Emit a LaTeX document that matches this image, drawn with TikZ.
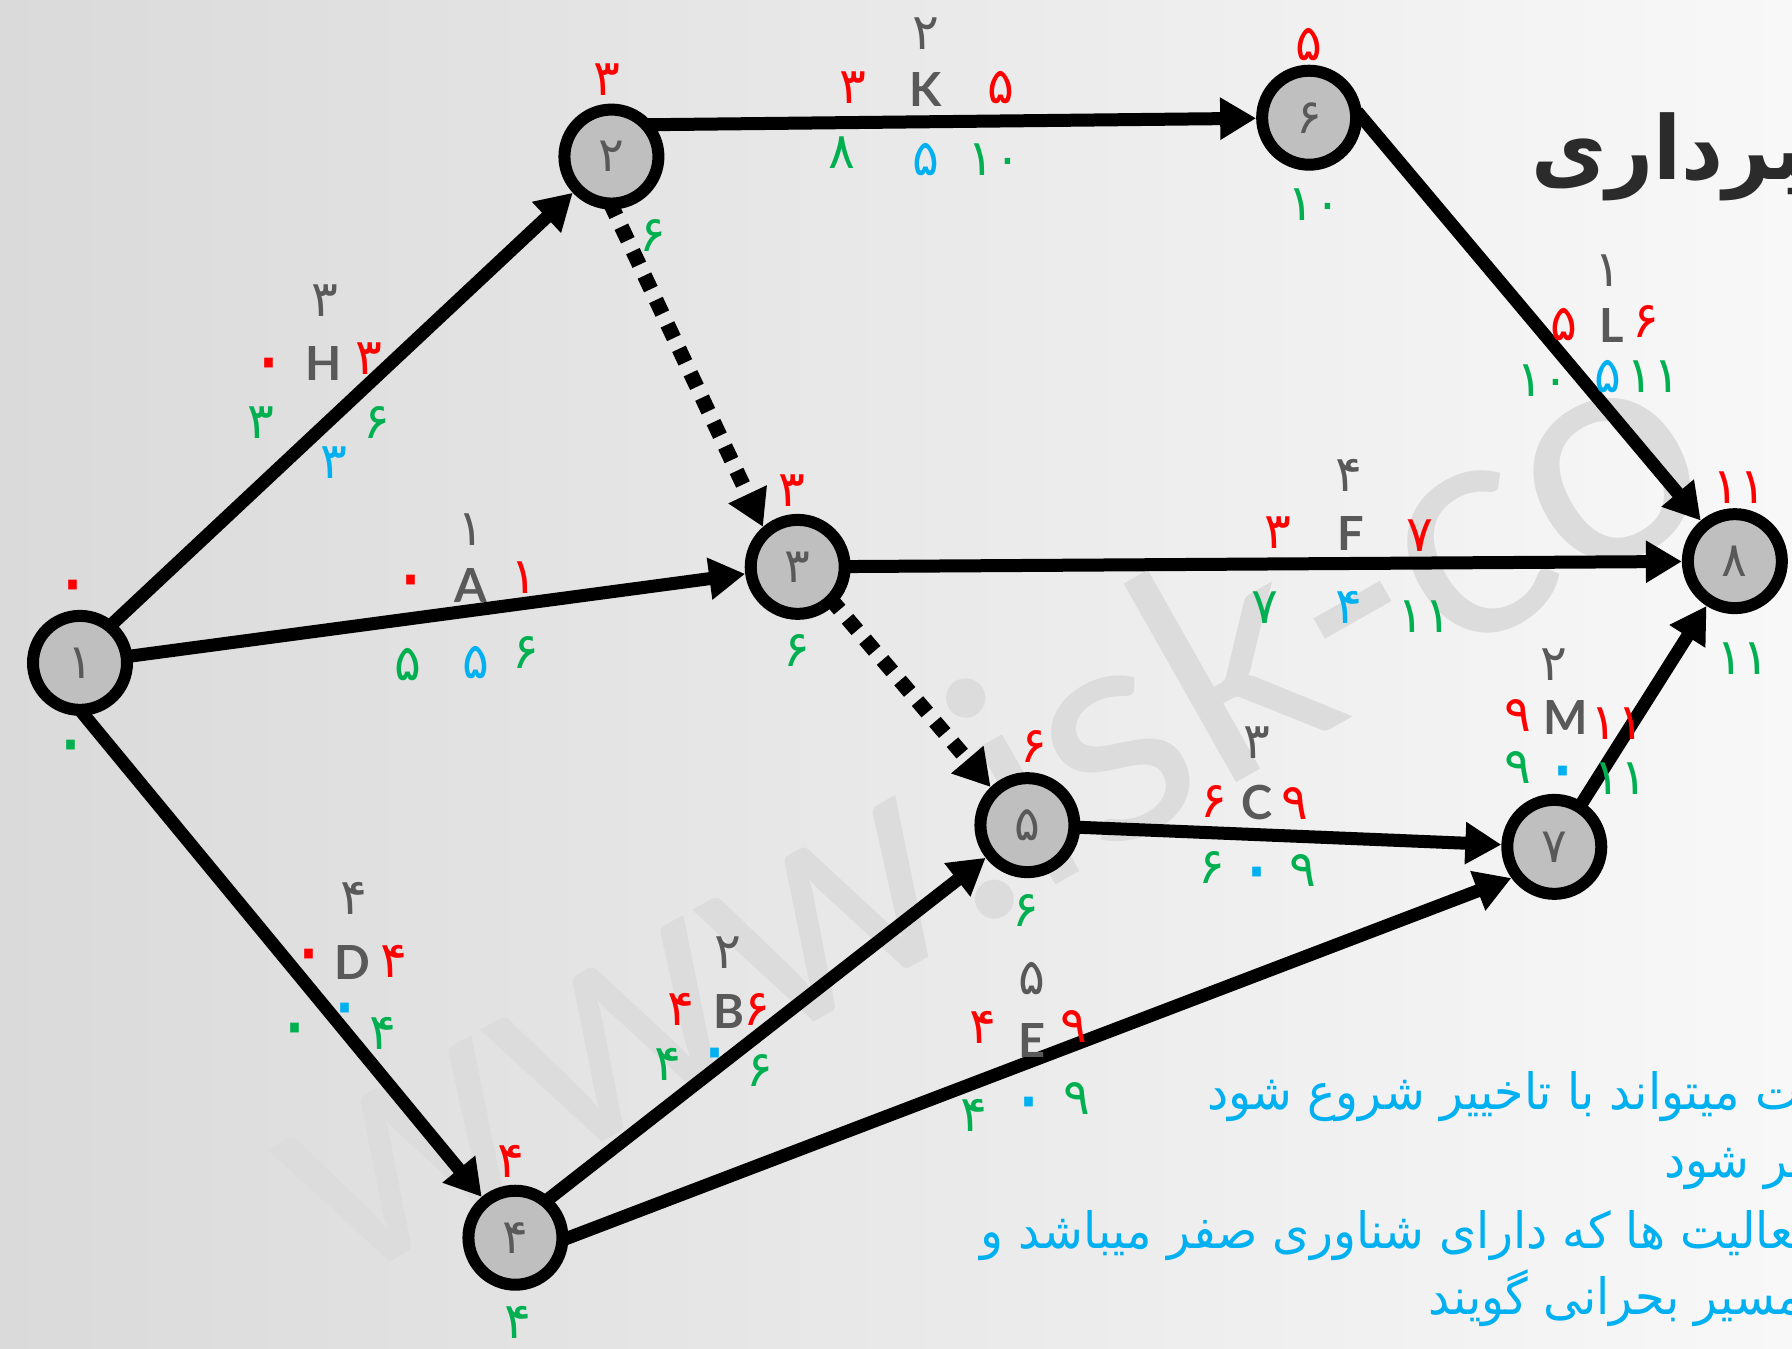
\documentclass[tikz,border=0pt]{standalone}
\usepackage{fontspec}
\setmainfont{Lato}
\newfontfamily\fa[Script=Arabic]{DejaVu Sans}
\newfontfamily\fatx[Script=Arabic,FakeStretch=0.95]{DejaVu Sans}
\newfontfamily\fattl[Script=Arabic,FakeStretch=0.93]{DejaVu Sans}
\newfontfamily\lat{Lato}
\TeXXeTstate=1
\usetikzlibrary{arrows.meta}
\definecolor{tgray}{HTML}{595959}
\definecolor{tred}{HTML}{FF0000}
\definecolor{tgreen}{HTML}{00B050}
\definecolor{tblue}{HTML}{00B0F0}
\definecolor{nfill}{HTML}{BFBFBF}
\definecolor{wmark}{HTML}{DCDCDC}
\definecolor{ttl}{HTML}{2B2B2B}
\definecolor{bgl}{HTML}{DADADA}
\definecolor{bgm}{HTML}{F0F0F0}
\definecolor{bgr}{HTML}{F8F8F8}
\pgfdeclarelayer{back}
\pgfdeclarelayer{edges}
\pgfsetlayers{back,edges,main}
\begin{document}
\begin{tikzpicture}[x=1.142857pt,y=-1.142857pt,
  ev/.style={circle,draw=black,line width=12pt,fill=nfill,minimum size=94pt,inner sep=0pt,text=tgray,font=\fa\fontsize{48}{52}\selectfont},
  lab/.style={inner sep=0pt,text height=35pt,text depth=0pt,font=\fa\fontsize{50}{54}\selectfont},
  dur/.style={lab,text=tgray},
  es/.style={lab,text=tred},
  lf/.style={lab,text=tgreen},
  fl/.style={lab,text=tblue},
  zr/.style={text height=44pt,font=\fa\fontsize{80}{80}\selectfont},
  act/.style={inner sep=0pt,text=tgray,font=\lat\bfseries\fontsize{47}{50}\selectfont},
  arr/.style={line width=13pt,-{Triangle[length=36pt,width=40pt]},shorten <=-8pt},
  dum/.style={arr,line width=15pt,dash pattern=on 15pt off 12pt},
  para/.style={inner sep=0pt,anchor=base west,text=tblue,font=\fatx\fontsize{50}{56}\selectfont}]
\useasboundingbox (0,0) rectangle (1568,1180);
\clip (0,0) rectangle (1568,1180);
\begin{pgfonlayer}{back}
\shade[left color=bgl,middle color=bgm,right color=bgr] (0,0) rectangle (1568,1180);
\node[rotate=29.5,anchor=base,inner sep=0pt,text=wmark,font=\lat\fontsize{310}{310}\selectfont] (wm) at (905,785) {www.isk-co};
\end{pgfonlayer}
% events
\node[ev] (n1) at (70,580) {۱};
\node[ev] (n2) at (535,137) {۲};
\node[ev] (n3) at (698,496) {۳};
\node[ev] (n4) at (451,1083) {۴};
\node[ev] (n5) at (899,722) {۵};
\node[ev] (n6) at (1145.5,103) {۶};
\node[ev] (n7) at (1360,741) {۷};
\node[ev] (n8) at (1518,491) {۸};
% activities
\begin{pgfonlayer}{edges}
\draw[arr] (n1.50) -- (n2);
\draw[arr] (n1) -- (n3);
\draw[arr] (n1.-85) -- (n4);
\draw[arr] (n2.37) -- (n6);
\draw[dum] (n2.-88) -- (n3.131);
\draw[dum] (n3.-45) -- (n5.134);
\draw[arr] (n3) -- (n8);
\draw[arr] (n6.0) -- (n8);
\draw[arr] (n4.49) -- (n5);
\draw[arr] (n4.0) -- (n7.216);
\draw[arr] (n5) -- (n7);
\draw[arr] (n7) -- (n8);
\end{pgfonlayer}
% event times
\node[es,zr] (t1a) at (64,512) {۰};
\node[lf,zr] (t1b) at (62,652) {۰};
\node[es] (t2a) at (531,68) {۳};
\node[lf] (t2b) at (571,205) {۶};
\node[es] (t3a) at (693,428) {۳};
\node[lf] (t3b) at (697,568) {۶};
\node[es] (t4a) at (447,1015) {۴};
\node[lf] (t4b) at (453,1156) {۴};
\node[es] (t5a) at (905,652) {۶};
\node[lf] (t5b) at (898,795) {۶};
\node[es] (t6a) at (1145,38) {۵};
\node[lf] (t6b) at (1150,178) {۱۰};
\node[es] (t8a) at (1522,425) {۱۱};
\node[lf] (t8b) at (1525,575) {۱۱};
% H
\node[dur] (hd) at (284,262) {۳};
\node[act] (h) at (283,318) {H};
\node[es,zr] (h1) at (235,318) {۰};
\node[es] (h2) at (323,312) {۳};
\node[lf] (h3) at (228,368) {۳};
\node[lf] (h4) at (330,368) {۶};
\node[fl] (h5) at (292,403) {۳};
% A
\node[dur] (ad) at (412,462) {۱};
\node[act] (a) at (412,512) {A};
\node[es,zr] (a1) at (360,508) {۰};
\node[es] (a2) at (458,504) {۱};
\node[lf] (a3) at (357,580) {۵};
\node[fl] (a5) at (416,578) {۵};
\node[lf] (a4) at (460,570) {۶};
% D
\node[dur] (dd) at (310,785) {۴};
\node[act] (d) at (308,842) {D};
\node[es,zr] (d1) at (270,835) {۰};
\node[es] (d2) at (345,840) {۴};
\node[fl,zr] (d5) at (302,882) {۰};
\node[lf,zr] (d3) at (258,900) {۰};
\node[lf] (d4) at (335,903) {۴};
% K
\node[dur] (kd) at (810,28) {۲};
\node[act] (k) at (810,78) {K};
\node[es] (k1) at (746,75) {۳};
\node[es] (k2) at (876,75) {۵};
\node[lf] (k3) at (737,132) {۸};
\node[fl] (k5) at (810,138) {۵};
\node[lf] (k4) at (870,138) {۱۰};
% F
\node[dur] (fd) at (1180,415) {۴};
\node[act] (f) at (1182,467) {F};
\node[es] (f1) at (1118,465) {۳};
\node[es] (f2) at (1242,467) {۷};
\node[lf] (f3) at (1107,530) {۷};
\node[fl] (f5) at (1180,530) {۴};
\node[lf] (f4) at (1246,538) {۱۱};
% L
\node[dur] (ld) at (1407,235) {۱};
\node[act] (l) at (1410,285) {L};
\node[es] (l1) at (1368,283) {۵};
\node[es] (l2) at (1440,280) {۶};
\node[lf] (l3) at (1350,332) {۱۰};
\node[fl] (l5) at (1407,328) {۵};
\node[lf] (l4) at (1447,328) {۱۱};
% M
\node[dur] (md) at (1360,580) {۲};
\node[act] (m) at (1370,628) {M};
\node[es] (m1) at (1328,625) {۹};
\node[es] (m2) at (1415,632) {۱۱};
\node[lf] (m3) at (1328,670) {۹};
\node[fl,zr] (m5) at (1368,675) {۰};
\node[lf] (m4) at (1418,680) {۱۱};
% C
\node[dur] (cd) at (1100,648) {۳};
\node[act] (c) at (1100,702) {C};
\node[es] (c1) at (1062,700) {۶};
\node[es] (c2) at (1133,702) {۹};
\node[lf] (c3) at (1060,758) {۶};
\node[fl,zr] (c5) at (1100,763) {۰};
\node[lf] (c4) at (1140,760) {۹};
% B
\node[dur] (bd) at (637,832) {۲};
\node[act] (b) at (638,885) {B};
\node[es] (b1) at (596,882) {۴};
\node[es] (b2) at (662,882) {۶};
\node[lf] (b3) at (584,930) {۴};
\node[fl,zr] (b5) at (626,922) {۰};
\node[lf] (b4) at (665,935) {۶};
% E
\node[dur] (ed) at (903,855) {۵};
\node[act] (e) at (903,910) {E};
\node[es] (e1) at (860,898) {۴};
\node[es] (e2) at (940,897) {۹};
\node[lf] (e3) at (852,975) {۴};
\node[fl,zr] (e5) at (900,965) {۰};
\node[lf] (e4) at (942,960) {۹};
% title and notes
\node[inner sep=0pt,anchor=base west,text=ttl,font=\fattl\bfseries\fontsize{88}{96}\selectfont] (title) at (1340,157) {\beginR ^^^^200dبرداری\endR};
\node[para] (p1) at (1056,971) {\beginR ^^^^200dت میتواند با تاخییر شروع شود\endR};
\node[para] (p2) at (1456,1030) {\beginR ^^^^200dیر شود\endR};
\node[para] (p3) at (858,1092) {\beginR ^^^^200dفعالیت ها که دارای شناوری صفر میباشد و\endR};
\node[para] (p4) at (1250,1150) {\beginR ^^^^200dمسیر بحرانی گویند\endR};
\end{tikzpicture}
\end{document}
